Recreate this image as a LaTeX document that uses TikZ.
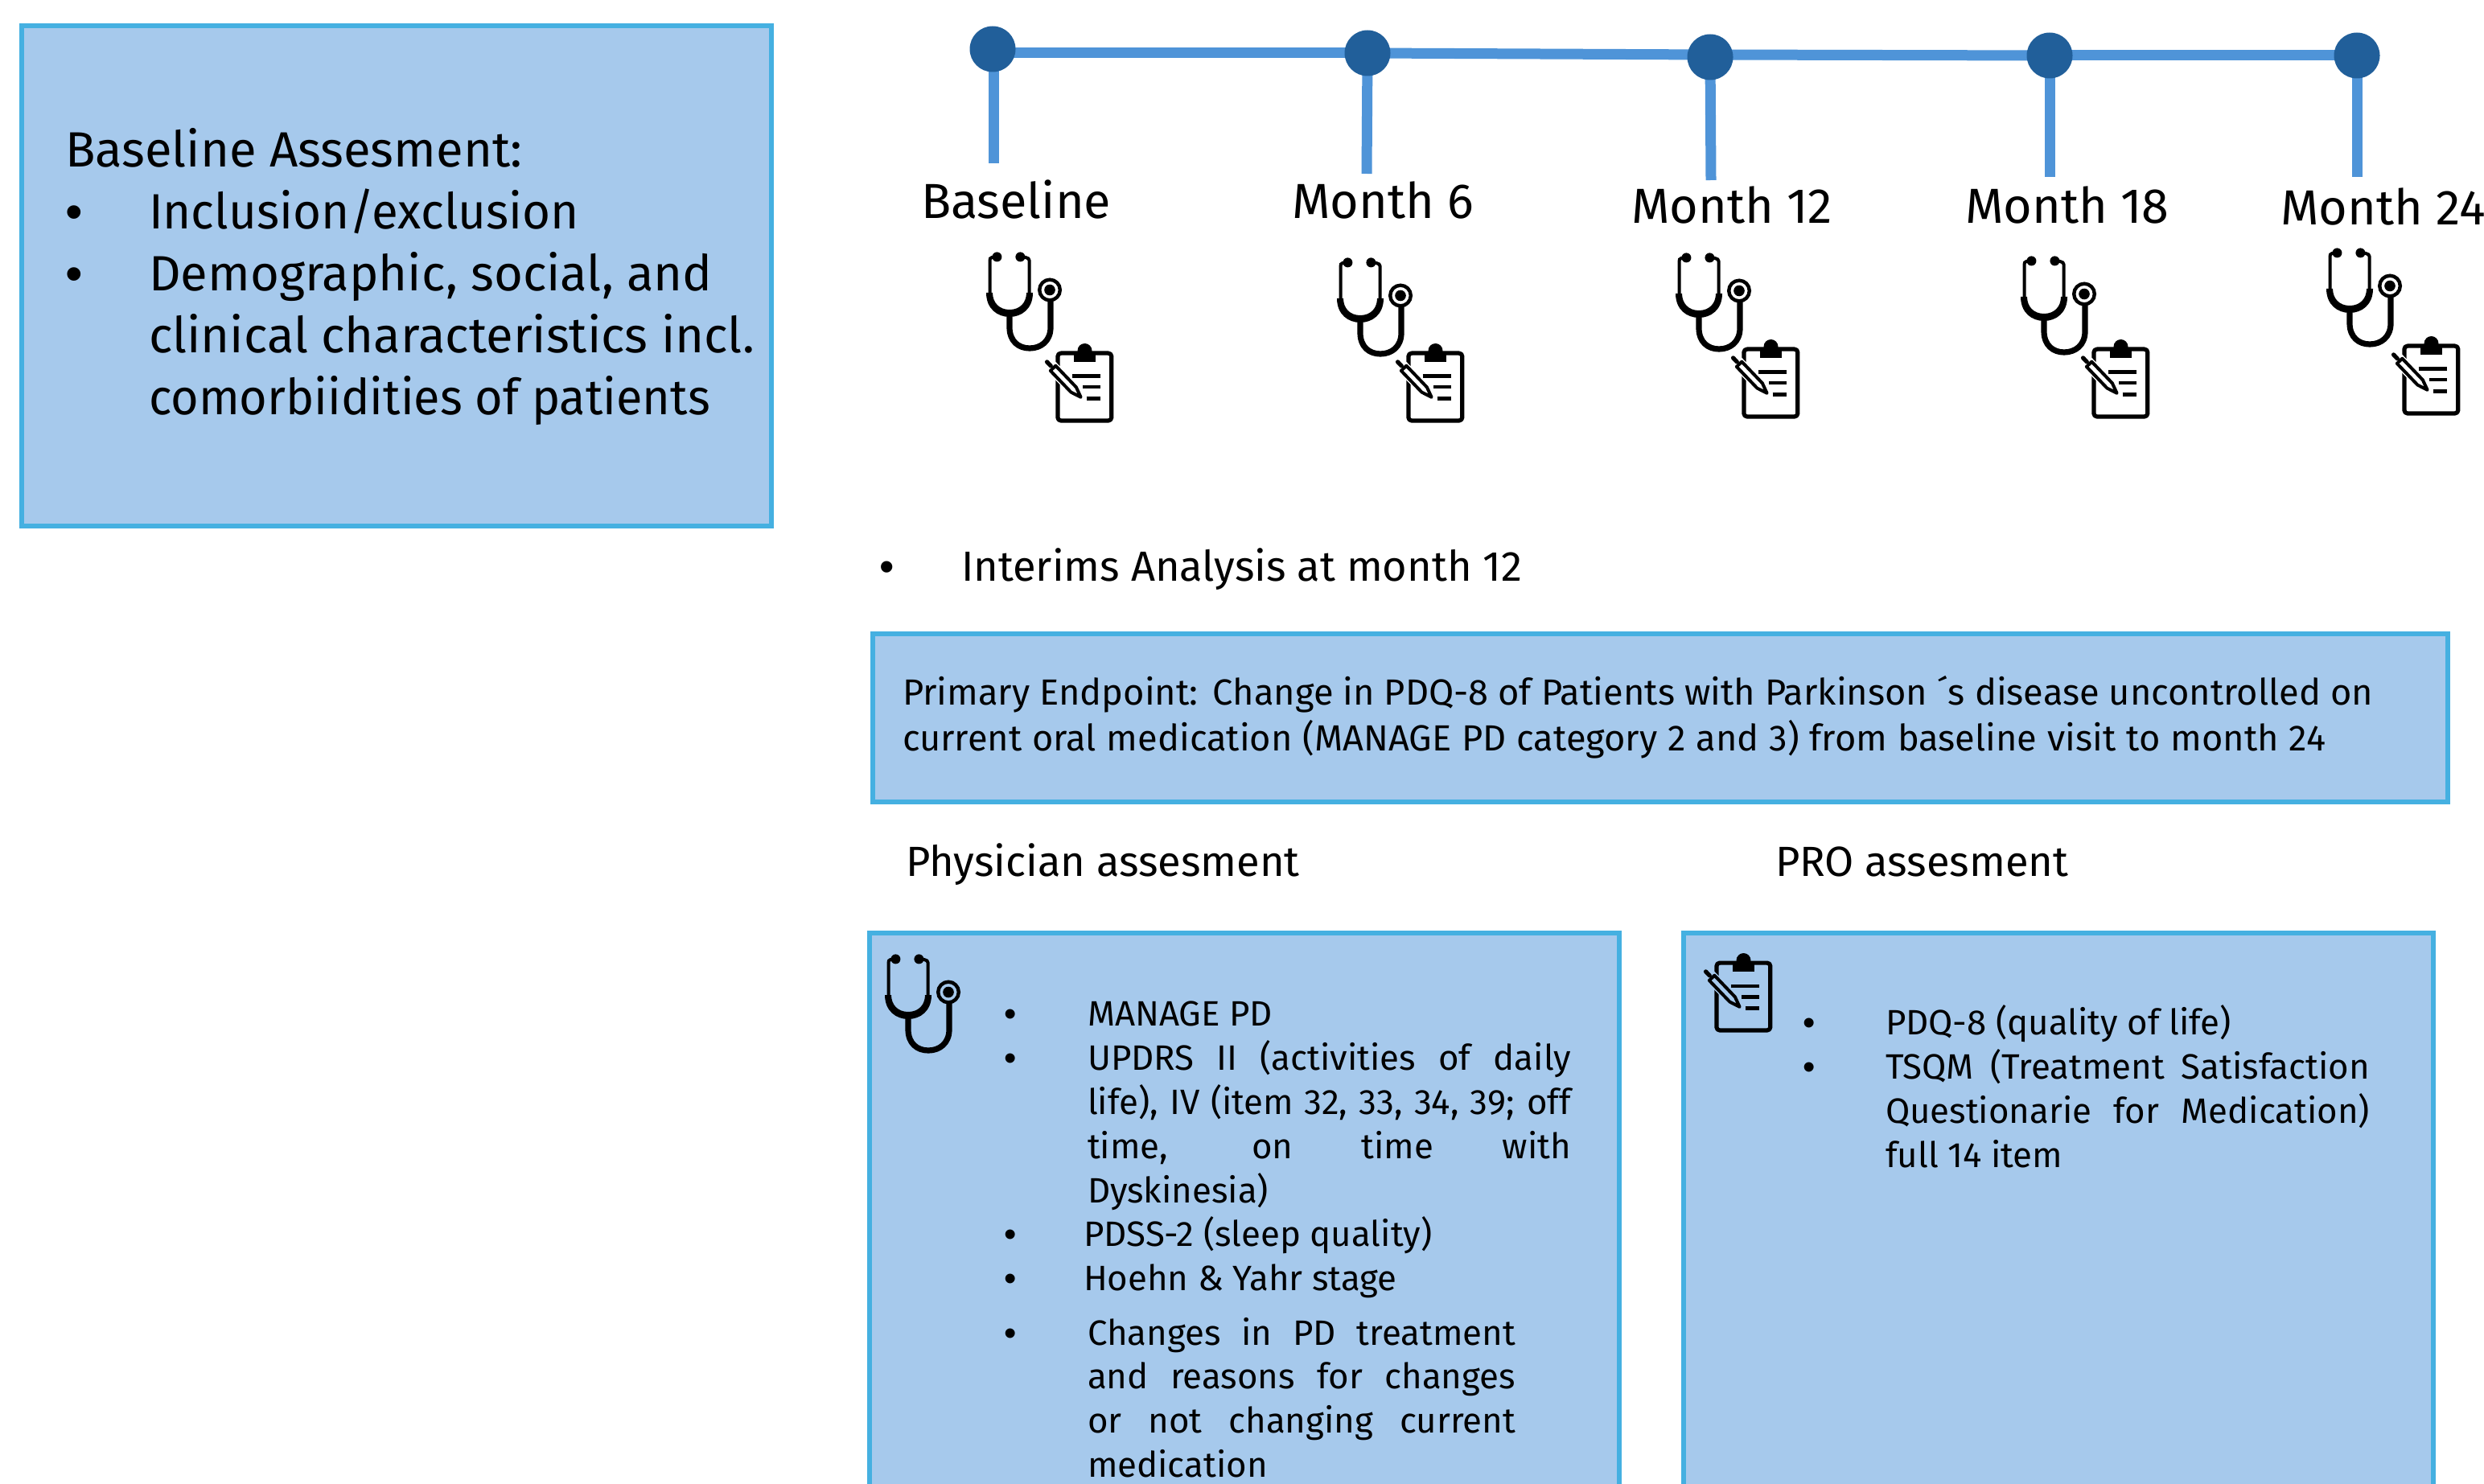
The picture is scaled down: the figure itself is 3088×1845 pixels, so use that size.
\documentclass[tikz,border=0pt]{standalone}
\usepackage{fontspec}
\usepackage{graphicx}
\setmainfont{Fira Sans}
\newfontfamily\bulf{Liberation Sans}
\usetikzlibrary{backgrounds}
\definecolor{boxfill}{HTML}{A6C9EC}
\definecolor{boxline}{HTML}{45B0E1}
\definecolor{tline}{HTML}{4F94D8}
\definecolor{tdot}{HTML}{215F9A}
\newcommand{\jl}[2]{\hbox to #1{\spaceskip=0.22em plus 1fil minus 0.12em\relax #2}}
\tikzset{
  bluebox/.style={draw=boxline,fill=boxfill,line width=3pt},
  dotnode/.style={circle,fill=tdot,minimum size=28.5pt,inner sep=0pt},
  tlbar/.style={draw=tline,line width=6.5pt},
  stem/.style={draw=tline,line width=6.5pt},
  txt/.style={anchor=base west,inner sep=0pt,outer sep=0pt,text=black},
  bul/.style={anchor=base,inner sep=0pt,outer sep=0pt,text=black},
  big/.style={font=\fontsize{30.8}{32}\selectfont},
  lab/.style={font=\fontsize{30.6}{32}\selectfont},
  mid/.style={font=\fontsize{26.2}{27}\selectfont},
  prim/.style={font=\fontsize{22.6}{24}\selectfont},
  lst/.style={font=\fontsize{21.9}{23}\selectfont},
  pics/steth/.style={code={
    \fill[black] (13.4,5.4) circle (3pt) (42.4,5.4) circle (3pt);
    \draw[black,line width=2pt,line cap=round] (13.4,5.4) -- (7,6) .. controls (5,6.5) and (4.5,8) .. (4.5,10) -- (4.5,52);
    \draw[black,line width=2pt,line cap=round] (42.4,5.4) -- (49,6) .. controls (52,6.5) and (53.6,8) .. (53.6,10) -- (53.6,52);
    \fill[black] (0,50) .. controls (0,70) and (14,80) .. (29,80) .. controls (44,80) and (58,70) .. (58,50) -- (50,50) .. controls (50,62) and (42,71) .. (29,71) .. controls (16,71) and (8,62) .. (8,50) -- cycle;
    \draw[black,line width=3.6pt] (29,75) -- (29,93) .. controls (29,110) and (40,119) .. (54,119) .. controls (68,119) and (80,110) .. (80,93) -- (80,60);
    \draw[black,line width=2.2pt] (79,46.5) circle (6.4pt);
    \fill[black] (79,46.5) circle (3.4pt);
  }},
  pics/clipb/.style={code={
    \draw[black,line width=2.6pt,line join=round,rounded corners=2pt] (17.9,7.1) rectangle (84.8,91);
    \fill[black] (38,5) -- (65,5) -- (65,18) -- (38,18) -- cycle;
    \fill[black] (51.5,4) circle (4.5pt);
    \draw[black,line width=2.2pt] (35.7,35.7) -- (71.4,35.7) (49,49.3) -- (71.4,49.3) (53.6,63.6) -- (71.4,63.6);
    \draw[#1,line width=3.4pt] (15.33,22.72) -- (40.84,49.36) -- (46.6,61.8) -- (34.36,55.56) -- (8.85,28.92) -- cycle;
    \draw[black,line width=2.6pt,line cap=round] (4.5,17.9) -- (9.3,22.9);
    \draw[black,line width=2pt,fill=#1,line join=round] (15.33,22.72) -- (40.84,49.36) -- (46.6,61.8) -- (34.36,55.56) -- (8.85,28.92) -- cycle;
    \fill[black] (46.6,61.8) -- (41,59.6) -- (44.6,56) -- cycle;
  }}
}
\begin{document}
\begin{tikzpicture}[x=0.5pt,y=-0.5pt]
\useasboundingbox (0,0) rectangle (3088,1845);
\clip (0,0) rectangle (3088,1845);
% boxes
\path[bluebox] (27,32) rectangle (959,654);
\path[bluebox] (1085,788) rectangle (3043,997);
\path[bluebox] (1081,1160) rectangle (2013,1880);
\path[bluebox] (2093,1160) rectangle (3025,1880);
% timeline
\node[dotnode] (v1) at (1234,61) {};
\node[dotnode] (v2) at (1700,66) {};
\node[dotnode] (v3) at (2126,71) {};
\node[dotnode] (v4) at (2548,69) {};
\node[dotnode] (v5) at (2930,69) {};
\coordinate (s1) at (1240,66);
\coordinate (e1) at (1235,203);
\coordinate (e2) at (1699,216);
\coordinate (e3) at (2127,224);
\coordinate (e4) at (2548,220);
\coordinate (e5) at (2930,220);
\begin{scope}[on background layer]
\fill[white] (0,0) rectangle (3088,1845);
\draw[tlbar] (s1) -- (v2.center);
\draw[tlbar] (v2.center) -- (2126,68);
\draw[tlbar] (2126,68) -- (v4.center);
\draw[tlbar] (v4.center) -- (v5.center);
\draw[stem] (1235,61) -- (e1);
\draw[stem] (v2.center) -- (e2);
\draw[stem] (v3.center) -- (e3);
\draw[stem] (v4.center) -- (e4);
\draw[stem] (v5.center) -- (e5);
\end{scope}
% labels
\node[txt,lab] (l1) at (1145,272) {Baseline};
\node[txt,lab] (l2) at (1606,272) {Month 6};
\node[txt,lab] (l3) at (2028,278) {Month 12};
\node[txt,lab] (l4) at (2443,278) {Month 18};
\node[txt,lab] (l5) at (2835,280) {Month 24};
% icons
\pic at (1226,314) {steth};
\pic at (1662,321) {steth};
\pic at (2083,315) {steth};
\pic at (2512,319) {steth};
\pic at (2892,309) {steth};
\pic at (1297,432) {clipb=white};
\pic at (1733,432) {clipb=white};
\pic at (2150,427) {clipb=white};
\pic at (2585,427) {clipb=white};
\pic at (2971,423) {clipb=white};
\pic at (1100,1187) {steth};
\pic at (2116,1190) {clipb=boxfill};
% baseline box
\node[txt,big] (a0) at (81,208) {Baseline Assesment:};
\node[bul,big] (ab1) at (92,285) {\bulf •};
\node[txt,big] (a1) at (185,285) {\scalebox{0.975}[1]{Inclusion/exclusion}};
\node[bul,big] (ab2) at (92,362) {\bulf •};
\node[txt,big] (a2) at (185,362) {Demographic, social, and};
\node[txt,big] (a3) at (185,439) {clinical characteristics incl.};
\node[txt,big] (a4) at (185,516) {\scalebox{0.965}[1]{comorbiidities of patients}};
% interim
\node[bul,mid] (ib) at (1103,722) {\bulf •};
\node[txt,mid] (i1) at (1195,722) {Interims Analysis at month 12};
% primary
\node[txt,prim] (p1) at (1122,876) {\jl{914pt}{Primary Endpoint: Change in PDQ-8 of Patients with Parkinson ´s disease uncontrolled on}};
\node[txt,prim] (p2) at (1122,933) {\jl{884.5pt}{current oral medication (MANAGE PD category 2 and 3) from baseline visit to month 24}};
% headings
\node[txt,mid] (h1) at (1126,1089) {Physician assesment};
\node[txt,mid] (h2) at (2207,1089) {PRO assesment};
% physician list
\node[bul,lst] (b1) at (1256,1275) {\bulf •};
\node[txt,lst] (t1) at (1352,1275) {MANAGE PD};
\node[bul,lst] (b2) at (1256,1330) {\bulf •};
\node[txt,lst] (t2) at (1352,1330) {\jl{300.5pt}{UPDRS II (activities of daily}};
\node[txt,lst] (t3) at (1352,1385) {\jl{300.5pt}{life), IV (item 32, 33, 34, 39; off}};
\node[txt,lst] (t4) at (1352,1440) {\jl{300.5pt}{time, on time with}};
\node[txt,lst] (t5) at (1352,1495) {Dyskinesia)};
\node[bul,lst] (b3) at (1256,1549) {\bulf •};
\node[txt,lst] (t6) at (1347,1549) {PDSS-2 (sleep quality)};
\node[bul,lst] (b4) at (1256,1604) {\bulf •};
\node[txt,lst] (t7) at (1347,1604) {Hoehn \& Yahr stage};
\node[bul,lst] (b5) at (1256,1672) {\bulf •};
\node[txt,lst] (t8) at (1352,1672) {\jl{266pt}{Changes in PD treatment}};
\node[txt,lst] (t9) at (1352,1726) {\jl{266pt}{and reasons for changes}};
\node[txt,lst] (t10) at (1352,1781) {\jl{266pt}{or not changing current}};
\node[txt,lst] (t11) at (1352,1836) {medication};
% PRO list
\node[bul,lst] (c1) at (2249,1286) {\bulf •};
\node[txt,lst] (r1) at (2344,1286) {PDQ-8 (quality of life)};
\node[bul,lst] (c2) at (2249,1341) {\bulf •};
\node[txt,lst] (r2) at (2344,1341) {\jl{301pt}{TSQM (Treatment Satisfaction}};
\node[txt,lst] (r3) at (2344,1396) {\jl{301pt}{Questionarie for Medication)}};
\node[txt,lst] (r4) at (2344,1451) {full 14 item};
\end{tikzpicture}
\end{document}
